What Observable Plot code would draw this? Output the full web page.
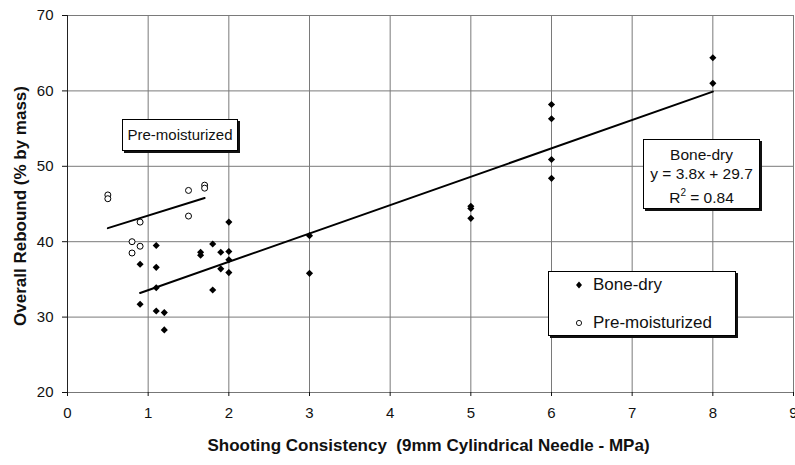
<!DOCTYPE html>
<html><head><meta charset="utf-8">
<script src="https://cdn.jsdelivr.net/npm/d3@7"></script>
<script src="https://cdn.jsdelivr.net/npm/@observablehq/plot@0.6"></script>
<style>
body{margin:0;background:#fff;font-family:"Liberation Sans",Arial,sans-serif;}
#wrap{position:relative;width:795px;height:465px;overflow:hidden;}
.box{position:absolute;box-sizing:border-box;border:1px solid #000;background:#fff;box-shadow:2px 2px 0 #111;color:#111;text-align:center;}
.leg-row{position:absolute;left:0;height:20px;display:flex;align-items:center;font-size:17px;}
.leg-row svg{margin-left:26px;margin-right:10px;}
</style></head><body><div id="wrap"></div>
<script>
// Bone-dry samples
const boneX = [0.9, 0.9, 1.1, 1.1, 1.1, 1.1, 1.2, 1.2, 1.65, 1.65, 1.8, 1.8, 1.9, 1.9, 2.0, 2.0, 2.0, 2.0, 3.0, 3.0, 5.0, 5.0, 5.0, 6.0, 6.0, 6.0, 6.0, 8.0, 8.0];
const boneY = [37.0, 31.7, 39.5, 36.6, 33.9, 30.8, 30.6, 28.3, 38.6, 38.2, 39.7, 33.6, 38.6, 36.4, 42.6, 38.7, 37.6, 35.9, 40.8, 35.8, 44.7, 44.4, 43.1, 58.2, 56.3, 50.9, 48.4, 64.4, 61.0];
// Pre-moisturized samples
const moistX = [0.5, 0.5, 0.8, 0.8, 0.9, 0.9, 1.5, 1.5, 1.7, 1.7];
const moistY = [46.2, 45.7, 40.0, 38.5, 42.6, 39.4, 46.8, 43.4, 47.5, 47.1];
// Trend line end points
const boneFitX = [0.9, 8.0];
const boneFitY = [33.2, 59.9];
const moistFitX = [0.5, 1.7];
const moistFitY = [41.8, 45.8];
// Ticks and labels
const xTicks = [0, 1, 2, 3, 4, 5, 6, 7, 8, 9];
const yTicks = [20, 30, 40, 50, 60, 70];
const xTitle = "Shooting Consistency  (9mm Cylindrical Needle - MPa)";
const yTitle = "Overall Rebound (% by mass)";
const seriesNames = ["Bone-dry", "Pre-moisturized"];
const eqLines = ["Bone-dry", "y = 3.8x + 29.7", "R<sup style='font-size:10px;vertical-align:7px'>2</sup> = 0.84"];

const bone = boneX.map((x, i) => ({x, y: boneY[i]}));
const moist = moistX.map((x, i) => ({x, y: moistY[i]}));
const boneFit = boneFitX.map((x, i) => ({x, y: boneFitY[i]}));
const moistFit = moistFitX.map((x, i) => ({x, y: moistFitY[i]}));

const chart = Plot.plot({
  width: 795, height: 465,
  marginLeft: 67, marginRight: 2, marginTop: 15, marginBottom: 73,
  x: {domain: [0, 9]},
  y: {domain: [20, 70]},
  style: {fontFamily: "'Liberation Sans', Arial, sans-serif", fontSize: "15px", color: "#111", background: "#fff", overflow: "visible"},
  marks: [
    Plot.gridX(xTicks, {stroke: "#7a7a7a", strokeOpacity: 1}),
    Plot.gridY(yTicks, {stroke: "#7a7a7a", strokeOpacity: 1}),
    Plot.ruleY([20], {stroke: "#777"}),
    Plot.ruleX([0], {stroke: "#222"}),
    Plot.axisX(xTicks, {tickSize: 4, tickPadding: 11, fontSize: 15, label: null}),
    Plot.axisY(yTicks, {tickSize: 5, tickPadding: 9, fontSize: 15, label: null}),
    Plot.line(boneFit, {x: "x", y: "y", stroke: "#000", strokeWidth: 2}),
    Plot.line(moistFit, {x: "x", y: "y", stroke: "#000", strokeWidth: 2}),
    Plot.dot(bone, {x: "x", y: "y", symbol: "diamond2", r: 3.2, fill: "#000", stroke: "none"}),
    Plot.dot(moist, {x: "x", y: "y", symbol: "circle", r: 3, fill: "#fff", stroke: "#000", strokeWidth: 1}),
    Plot.text([xTitle], {text: d => d, frameAnchor: "bottom", textAnchor: "middle", dy: 58, dx: -2, fontWeight: "bold", fontSize: 17, fill: "#111"}),
    Plot.text([yTitle], {text: d => d, frameAnchor: "left", textAnchor: "middle", lineAnchor: "middle", dx: -47, dy: 2, rotate: -90, fontWeight: "bold", fontSize: 17, fill: "#111"})
  ]
});

const wrap = document.getElementById("wrap");
wrap.appendChild(chart);

// Pre-moisturized label box
const b1 = document.createElement("div");
b1.className = "box";
Object.assign(b1.style, {left: "122px", top: "119px", width: "116px", height: "32px", fontSize: "15px", lineHeight: "30px"});
b1.textContent = seriesNames[1];
wrap.appendChild(b1);

// Equation box
const b2 = document.createElement("div");
b2.className = "box";
Object.assign(b2.style, {left: "643px", top: "139px", width: "117px", height: "70px", fontSize: "15.5px", lineHeight: "19px", paddingTop: "5px"});
b2.innerHTML = eqLines.join("<br>");
wrap.appendChild(b2);

// Legend
const lg = document.createElement("div");
lg.className = "box";
Object.assign(lg.style, {left: "548px", top: "271px", width: "188px", height: "65px"});
const r1 = document.createElement("div");
r1.className = "leg-row";
r1.style.top = "3px";
r1.innerHTML = `<svg width="8" height="8" viewBox="-4 -4 8 8"><polygon points="0,-3.5 3,0 0,3.5 -3,0" fill="#000"/></svg><span>${seriesNames[0]}</span>`;
const r2 = document.createElement("div");
r2.className = "leg-row";
r2.style.top = "41px";
r2.innerHTML = `<svg width="8" height="8" viewBox="-4 -4 8 8"><circle r="2.6" fill="#fff" stroke="#000" stroke-width="0.9"/></svg><span>${seriesNames[1]}</span>`;
lg.appendChild(r1); lg.appendChild(r2);
wrap.appendChild(lg);
</script>
</body></html>
